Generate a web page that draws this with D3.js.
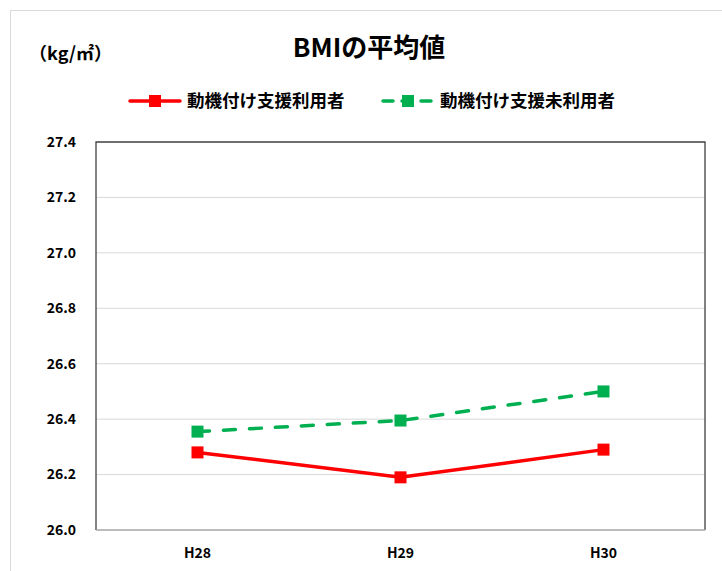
<!DOCTYPE html>
<html>
<head>
<meta charset="utf-8">
<script src="https://cdn.jsdelivr.net/npm/d3@7"></script>
<style>
  body { margin: 0; background: #fff; }
  text { font-family: "Noto Sans CJK JP", "Noto Sans", sans-serif; }
</style>
</head>
<body>
<svg id="chart" width="722" height="571"></svg>
<script>
// data
const years = ["H28", "H29", "H30"];
const users = [26.28, 26.19, 26.29];       // 動機付け支援利用者
const nonUsers = [26.355, 26.395, 26.50];  // 動機付け支援未利用者
const yTicks = [26.0, 26.2, 26.4, 26.6, 26.8, 27.0, 27.2, 27.4];

const svg = d3.select("#chart");

// outer chart frame
svg.append("rect")
    .attr("x", 10.5).attr("y", 10.5)
    .attr("width", 730).attr("height", 580)
    .attr("fill", "#fff")
    .attr("stroke", "#d9d9d9");

const margin = { top: 142, right: 17, bottom: 41, left: 96 },
    width = 722 - margin.left - margin.right,
    height = 571 - margin.top - margin.bottom;

const g = svg.append("g").attr("transform", `translate(${margin.left},${margin.top})`);

const x = d3.scaleBand().domain(years).range([0, width]);
const y = d3.scaleLinear().domain([26.0, 27.4]).range([height, 0]);

// gridlines
g.selectAll(".grid")
    .data(yTicks.slice(1, -1))
    .enter().append("line")
    .attr("x1", 0).attr("x2", width)
    .attr("y1", d => y(d)).attr("y2", d => y(d))
    .attr("stroke", "#d9d9d9")
    .attr("stroke-width", 1);

// plot border
g.append("path")
    .attr("d", `M0,${height}V0H${width}V${height}`)
    .attr("fill", "none")
    .attr("stroke", "#404040")
    .attr("stroke-width", 1.3);
g.append("line")
    .attr("x1", 0).attr("x2", width)
    .attr("y1", height).attr("y2", height)
    .attr("stroke", "#a6a6a6")
    .attr("stroke-width", 1.3);

// y axis labels
g.selectAll(".ytick")
    .data(yTicks)
    .enter().append("text")
    .attr("x", -20)
    .attr("y", d => y(d))
    .attr("dy", "0.35em")
    .attr("text-anchor", "end")
    .attr("font-size", 14)
    .attr("font-weight", "bold")
    .attr("fill", "#000")
    .text(d => d.toFixed(1));

// x axis labels
g.selectAll(".xtick")
    .data(years)
    .enter().append("text")
    .attr("x", d => x(d) + x.bandwidth() / 2)
    .attr("y", height + 28)
    .attr("text-anchor", "middle")
    .attr("font-size", 14)
    .attr("font-weight", "bold")
    .attr("fill", "#000")
    .text(d => d);

const series = [
    { name: "動機付け支援利用者", values: users, color: "#ff0000", dash: null },
    { name: "動機付け支援未利用者", values: nonUsers, color: "#00b050", dash: "12,14" }
];

const line = d3.line()
    .x((d, i) => x(years[i]) + x.bandwidth() / 2)
    .y(d => y(d));

series.forEach(s => {
    g.append("path")
        .datum(s.values)
        .attr("fill", "none")
        .attr("stroke", s.color)
        .attr("stroke-width", 3.5)
        .attr("stroke-linecap", s.dash ? "round" : "butt")
        .attr("stroke-dasharray", s.dash)
        .attr("d", line);

    g.selectAll(null)
        .data(s.values)
        .enter().append("rect")
        .attr("x", (d, i) => x(years[i]) + x.bandwidth() / 2 - 6)
        .attr("y", d => y(d) - 6)
        .attr("width", 12).attr("height", 12)
        .attr("fill", s.color);
});

// title and unit
svg.append("text")
    .attr("x", 369).attr("y", 57)
    .attr("text-anchor", "middle")
    .attr("font-size", 26)
    .attr("font-weight", "bold")
    .text("BMIの平均値");

svg.append("text")
    .attr("x", 29).attr("y", 60)
    .attr("font-size", 18)
    .attr("font-weight", "bold")
    .text("（kg/㎡）");

// legend
const legendX = [130, 383];
series.forEach((s, i) => {
    const lg = svg.append("g").attr("transform", `translate(${legendX[i]},101)`);
    lg.append("line")
        .attr("x1", 0).attr("x2", 50)
        .attr("y1", 0).attr("y2", 0)
        .attr("stroke", s.color)
        .attr("stroke-width", 3.5)
        .attr("stroke-linecap", "round")
        .attr("stroke-dasharray", s.dash ? "10,9" : null);
    lg.append("rect")
        .attr("x", 19).attr("y", -6)
        .attr("width", 12).attr("height", 12)
        .attr("fill", s.color);
    lg.append("text")
        .attr("x", 57).attr("y", 0)
        .attr("dy", "0.35em")
        .attr("font-size", 17.5)
        .attr("font-weight", "bold")
        .text(s.name);
});
</script>
</body>
</html>
